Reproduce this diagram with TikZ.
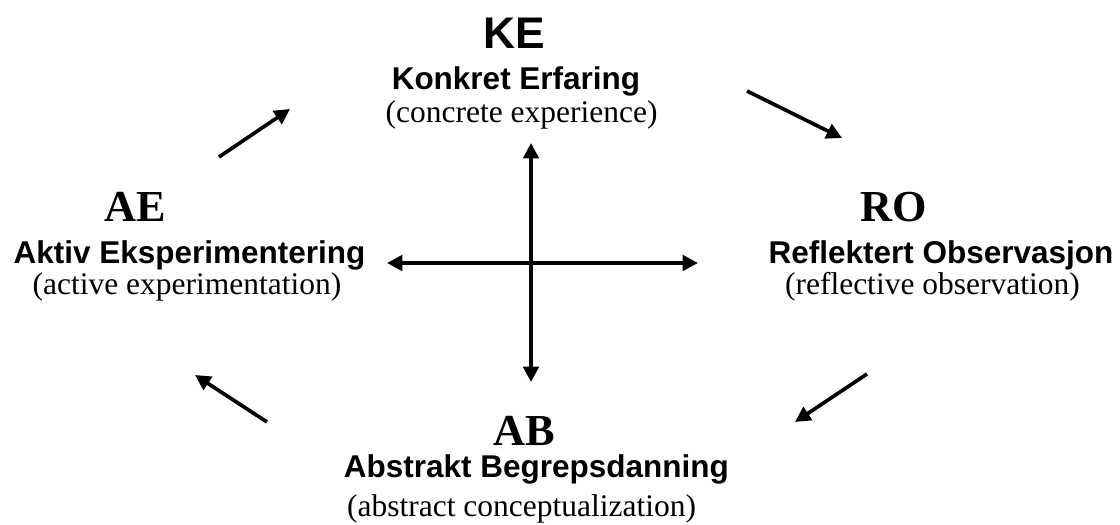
\documentclass[tikz,border=0pt]{standalone}
\usepackage{fontspec}
\setmainfont{Liberation Serif}
\setsansfont{Liberation Sans}
\usetikzlibrary{arrows.meta}

\begin{document}
\begin{tikzpicture}[>={Triangle[length=11pt,width=11pt]},line width=2.6pt,
  abbr/.style={anchor=base,inner sep=0pt,font=\fontsize{31.5}{36}\selectfont\bfseries},
  term/.style={anchor=base,inner sep=0pt,font=\fontsize{22.4}{26}\selectfont\sffamily\bfseries},
  gloss/.style={anchor=base,inner sep=0pt,font=\fontsize{22.4}{26}\selectfont}]
\useasboundingbox (0,0) rectangle (28,13.1);
\node[abbr,font=\fontsize{31.5}{36}\selectfont\sffamily\bfseries] (ke) at (12.86,11.875) {KE};
\node[term] (ket) at (12.9,10.85) {Konkret Erfaring};
\node[gloss] (keg) at (13.04,10.025) {(concrete experience)};
\node[abbr] (ae) at (3.375,7.55) {AE};
\node[term] (aet) at (4.74,6.5) {Aktiv Eksperimentering};
\node[gloss] (aeg) at (4.675,5.725) {(active experimentation)};
\node[abbr] (ro) at (22.34,7.55) {RO};
\node[term] (rot) at (23.525,6.5) {Reflektert Observasjon};
\node[gloss] (rog) at (23.31,5.725) {(reflective observation)};
\node[abbr] (ab) at (13.1,1.975) {AB};
\node[term] (abt) at (13.41,1.175) {Abstrakt Begrepsdanning};
\node[gloss] (abg) at (13.04,0.2) {(abstract conceptualization)};
% cycle arrows
\coordinate (c1a) at (5.475,9.175);  \coordinate (c1b) at (7.25,10.375);
\coordinate (c2a) at (18.675,10.825); \coordinate (c2b) at (21.05,9.65);
\coordinate (c3a) at (21.675,3.75);  \coordinate (c3b) at (19.875,2.55);
\coordinate (c4a) at (6.675,2.55);   \coordinate (c4b) at (4.875,3.725);
\draw[->] (c1a)--(c1b);
\draw[->] (c2a)--(c2b);
\draw[->] (c3a)--(c3b);
\draw[->] (c4a)--(c4b);
% axes
\coordinate (up) at (13.275,9.525);  \coordinate (down) at (13.275,3.55);
\coordinate (left) at (9.675,6.525); \coordinate (right) at (17.45,6.525);
\draw[<->] (down)--(up);
\draw[<->] (left)--(right);
\end{tikzpicture}
\end{document}
